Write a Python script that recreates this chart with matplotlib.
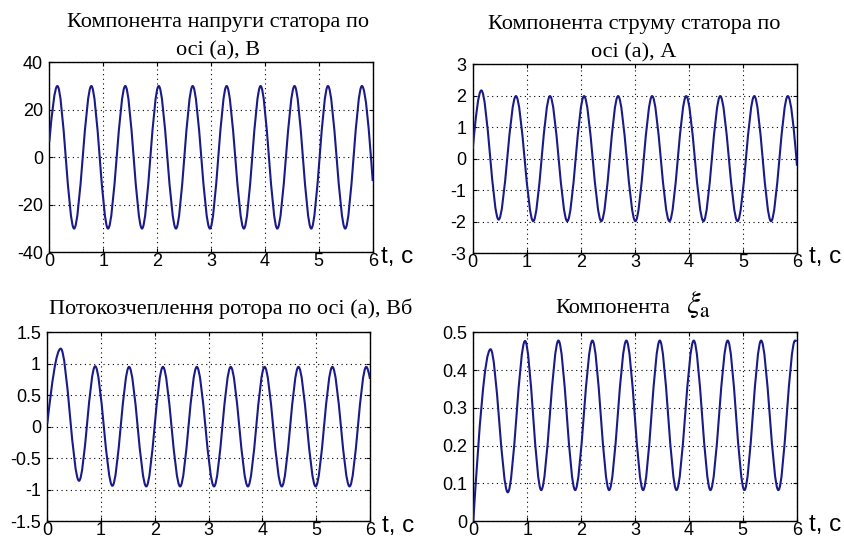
import numpy as np
import matplotlib
matplotlib.use("Agg")
import matplotlib.pyplot as plt
from matplotlib.path import Path
from matplotlib.patches import PathPatch

# ---------------- data (extrema, plus start/end) ----------------
# Stator voltage component, axis (a), V
u_t = [0.00, 0.15, 0.46, 0.78, 1.09, 1.41, 1.72, 2.03, 2.35, 2.66, 2.98,
       3.29, 3.61, 3.92, 4.23, 4.55, 4.86, 5.17, 5.49, 5.80, 6.00]
u_v = [6.5, 30.0, -30.0, 30.0, -30.0, 30.0, -30.0, 30.0, -30.0, 30.0, -30.0,
       30.0, -30.0, 30.0, -30.0, 30.0, -30.0, 30.0, -30.0, 30.0, -10.0]

# Stator current component, axis (a), A
i_t = [0.00, 0.16, 0.48, 0.80, 1.12, 1.43, 1.75, 2.06, 2.38, 2.69, 3.01,
       3.32, 3.64, 3.95, 4.27, 4.58, 4.90, 5.21, 5.52, 5.83, 6.00]
i_v = [0.30, 2.17, -1.93, 1.99, -1.98, 1.99, -1.98, 1.99, -1.98, 1.99, -1.98,
       1.99, -1.98, 1.99, -1.98, 1.99, -1.98, 1.99, -1.98, 1.99, -0.22]

# Rotor flux linkage, axis (a), Wb
psi_t = [0.00, 0.25, 0.59, 0.89, 1.21, 1.52, 1.84, 2.15, 2.47, 2.78, 3.10,
         3.41, 3.73, 4.04, 4.36, 4.67, 4.99, 5.30, 5.62, 5.93, 6.00]
psi_v = [0.05, 1.24, -0.86, 0.96, -0.94, 0.95, -0.95, 0.95, -0.95, 0.95, -0.95,
         0.95, -0.95, 0.95, -0.95, 0.95, -0.95, 0.95, -0.95, 0.95, 0.76]

# Component xi_a
xi_t = [0.00, 0.32, 0.64, 0.96, 1.26, 1.58, 1.89, 2.21, 2.52, 2.84, 3.15,
        3.46, 3.77, 4.09, 4.40, 4.72, 5.03, 5.34, 5.66, 5.97, 6.00]
xi_v = [0.0, 0.455, 0.076, 0.477, 0.082, 0.478, 0.082, 0.478, 0.082, 0.478, 0.082,
        0.478, 0.082, 0.478, 0.082, 0.478, 0.082, 0.478, 0.082, 0.478, 0.476]

x_ticks = [0, 1, 2, 3, 4, 5, 6]
x_tick_labels = ["0", "1", "2", "3", "4", "5", "6"]

u_yticks = [-40, -20, 0, 20, 40]
u_yticklabels = ["-40", "-20", "0", "20", "40"]
i_yticks = [-3, -2, -1, 0, 1, 2, 3]
i_yticklabels = ["-3", "-2", "-1", "0", "1", "2", "3"]
psi_yticks = [-1.5, -1, -0.5, 0, 0.5, 1, 1.5]
psi_yticklabels = ["-1.5", "-1", "-0.5", "0", "0.5", "1", "1.5"]
xi_yticks = [0, 0.1, 0.2, 0.3, 0.4, 0.5]
xi_yticklabels = ["0", "0.1", "0.2", "0.3", "0.4", "0.5"]

title_u = "Компонента напруги статора по\nосі (а), В"
title_i = "Компонента струму статора по\nосі (а), А"
title_psi = "Потокозчеплення ротора по осі (а), Вб"
title_xi_word = "Компонента"
title_xi_sym = "$\\xi_{\\mathrm{a}}$"
x_label = "t, c"

# ---------------- style ----------------
plt.rcParams["font.family"] = ["Liberation Sans", "DejaVu Sans"]
plt.rcParams["mathtext.fontset"] = "stix"

W, H = 845, 540
LINE_COLOR = "#1a1a88"
fig = plt.figure(figsize=(W / 100, H / 100), dpi=100)


def px_axes(l, t, r, b):
    return fig.add_axes([l / W, 1 - b / H, (r - l) / W, (b - t) / H])


def smooth_path(t, y, k_end=1.6):
    """Smooth curve through the given extrema using the library's cubic Bezier path."""
    t = np.asarray(t, float)
    y = np.asarray(y, float)
    n = len(t)
    m = np.zeros(n)
    m[0] = k_end * (y[1] - y[0]) / (t[1] - t[0])
    m[-1] = k_end * (y[-1] - y[-2]) / (t[-1] - t[-2])
    verts = [(t[0], y[0])]
    codes = [Path.MOVETO]
    for i in range(n - 1):
        h = t[i + 1] - t[i]
        verts += [(t[i] + h / 3, y[i] + m[i] * h / 3),
                  (t[i + 1] - h / 3, y[i + 1] - m[i + 1] * h / 3),
                  (t[i + 1], y[i + 1])]
        codes += [Path.CURVE4] * 3
    return Path(verts, codes)


def setup(ax, t, y, yticks, yticklabels):
    patch = PathPatch(smooth_path(t, y), facecolor="none", edgecolor=LINE_COLOR,
                      linewidth=1.5, transform=ax.transData, zorder=3)
    ax.add_patch(patch)
    ax.set_xlim(0, 6)
    ax.set_ylim(yticks[0], yticks[-1])
    ax.set_xticks(x_ticks)
    ax.set_xticklabels(x_tick_labels)
    ax.set_yticks(yticks)
    ax.set_yticklabels(yticklabels)
    ax.grid(True, color="k", linestyle=(0, (1, 3.2)), linewidth=0.8)
    ax.tick_params(direction="in", length=3, width=0.8, top=True, right=True,
                   labelsize=13)
    ax.tick_params(axis="x", pad=0.5)
    ax.tick_params(axis="y", pad=4.5)
    for s in ax.spines.values():
        s.set_linewidth(1.0)


ax1 = px_axes(49.3, 62.3, 372.7, 252.3)
setup(ax1, u_t, u_v, u_yticks, u_yticklabels)
ax2 = px_axes(472.7, 64.3, 797.0, 253.3)
setup(ax2, i_t, i_v, i_yticks, i_yticklabels)
ax3 = px_axes(47.3, 332.3, 370.0, 521.0)
setup(ax3, psi_t, psi_v, psi_yticks, psi_yticklabels)
ax4 = px_axes(473.3, 332.3, 796.7, 521.0)
setup(ax4, xi_t, xi_v, xi_yticks, xi_yticklabels)

tfont = dict(family="Liberation Serif", fontsize=16)
fig.text(218 / W, 1 - 55 / H, title_u, ha="center", va="baseline",
         multialignment="center", linespacing=1.58, **tfont)
fig.text(634 / W, 1 - 57 / H, title_i, ha="center", va="baseline",
         multialignment="center", linespacing=1.58, **tfont)
fig.text(231 / W, 1 - 314 / H, title_psi, ha="center", va="baseline", **tfont)
fig.text(555 / W, 1 - 313 / H, title_xi_word, ha="left", va="baseline", **tfont)
fig.text(686 / W, 1 - 313 / H, title_xi_sym, ha="left", va="baseline", fontsize=22)

lfont = dict(family="Liberation Sans", fontsize=17.5)
fig.text(381 / W, 1 - 263 / H, x_label, ha="left", va="baseline", **lfont)
fig.text(809 / W, 1 - 263 / H, x_label, ha="left", va="baseline", **lfont)
fig.text(382 / W, 1 - 532 / H, x_label, ha="left", va="baseline", **lfont)
fig.text(809 / W, 1 - 531 / H, x_label, ha="left", va="baseline", **lfont)

fig.savefig("out.png", dpi=100)
